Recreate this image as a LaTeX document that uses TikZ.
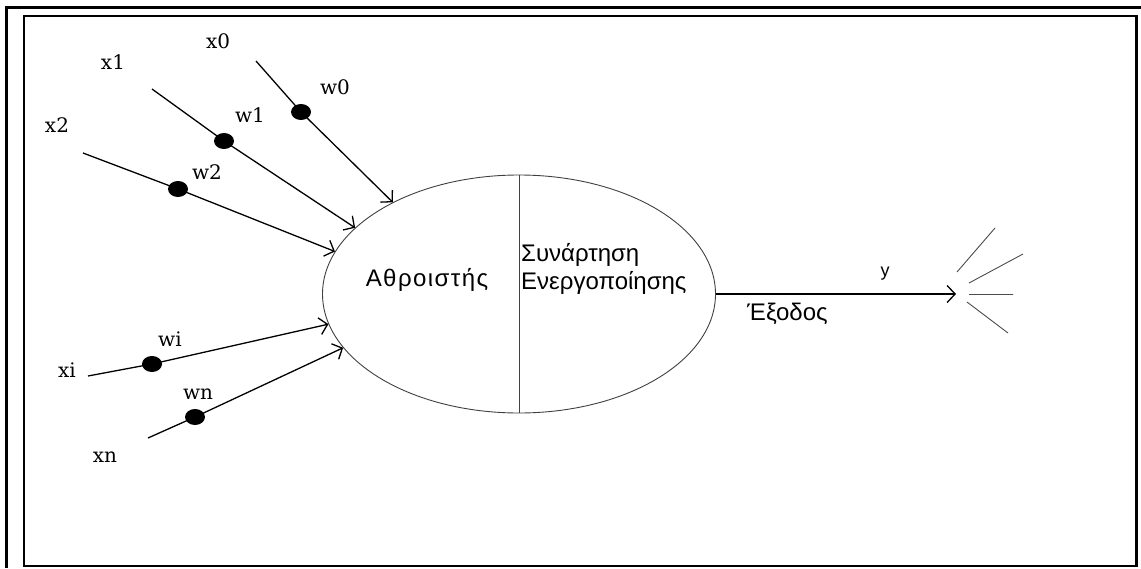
\documentclass[tikz,border=0pt]{standalone}
\usepackage{fontspec}
\setmainfont{DejaVu Serif}
\newfontfamily\greekfont{Liberation Sans}
\usetikzlibrary{shapes.geometric,arrows.meta}
\tikzset{
  weight/.style={ellipse,fill=black,minimum width=20pt,minimum height=16pt,inner sep=0pt},
  lbl/.style={font=\fontsize{20}{20}\selectfont,inner sep=0pt},
  greek/.style={font=\greekfont\fontsize{24}{28}\selectfont,inner sep=0pt},
  input/.style={line width=1.3pt,-{Straight Barb[length=8pt,width=17pt]}},
}
\begin{document}
\begin{tikzpicture}[x=1pt,y=-1pt]
  \useasboundingbox (0,0) rectangle (1141,568);
  \draw[line width=3pt] (5,7.5) -- (1141,7.5);
  \draw[line width=3pt] (6.5,6) -- (6.5,568);
  \draw[line width=2.5pt] (24,16) rectangle (1136.5,566);
  \node[ellipse,draw=black!75,line width=0.9pt,minimum width=393pt,minimum height=238pt] (neuron) at (519,294) {};
  \draw[black!75,line width=0.9pt] (neuron.north) -- (neuron.south);
  \draw
    (256,61) coordinate (s0)
    (152,89) coordinate (s1)
    (83,153) coordinate (s2)
    (88,376) coordinate (si)
    (148,438) coordinate (sn)
    (301,112) node[weight] (w0){}
    (224,141) node[weight] (w1){}
    (178,189) node[weight] (w2){}
    (152,364) node[weight] (wi){}
    (195,417) node[weight] (wn){};
  \node[lbl] (x0lbl) at (218,41) {x0};
  \node[lbl] (x1lbl) at (113,62) {x1};
  \node[lbl] (x2lbl) at (57,125) {x2};
  \node[lbl] (xilbl) at (67,370) {xi};
  \node[lbl] (xnlbl) at (105,457) {xn};
  \node[lbl] (w0lbl) at (335,87) {w0};
  \node[lbl] (w1lbl) at (250,115) {w1};
  \node[lbl] (w2lbl) at (207,172) {w2};
  \node[lbl] (wilbl) at (170,339) {wi};
  \node[lbl] (wnlbl) at (198,394) {wn};
  \node[greek,font=\greekfont\fontsize{24}{28}\selectfont\addfontfeature{LetterSpace=6}] (adder) at (427,280) {Αθροιστής};
  \node[greek,anchor=west,align=left] (activation) at (521,269) {Συνάρτηση\\Ενεργοποίησης};
  \node[greek,anchor=west] (exodos) at (747,314) {Έξοδος};
  \node[font=\greekfont\fontsize{18}{18}\selectfont,inner sep=0pt] (ylbl) at (885,274) {y};
  \coordinate (out) at (956,294);
  \begin{scope}[input]
    \draw (s0) -- (w0.center) -- (neuron.144.5);
    \draw (s1) -- (w1.center) -- (neuron.158.1);
    \draw (s2) -- (w2.center) -- (neuron.167.3);
    \draw (si) -- (wi.center) -- (neuron.189.9);
    \draw (sn) -- (wn.center) -- (neuron.197.1);
    \draw (neuron.east) -- (out);
  \end{scope}
  \draw[black!70,line width=0.9pt]
    (957,272) -- (995,228)
    (969,283) -- (1023,254)
    (969,294.5) -- (1013,294.5)
    (967,302) -- (1008,333);
\end{tikzpicture}
\end{document}
